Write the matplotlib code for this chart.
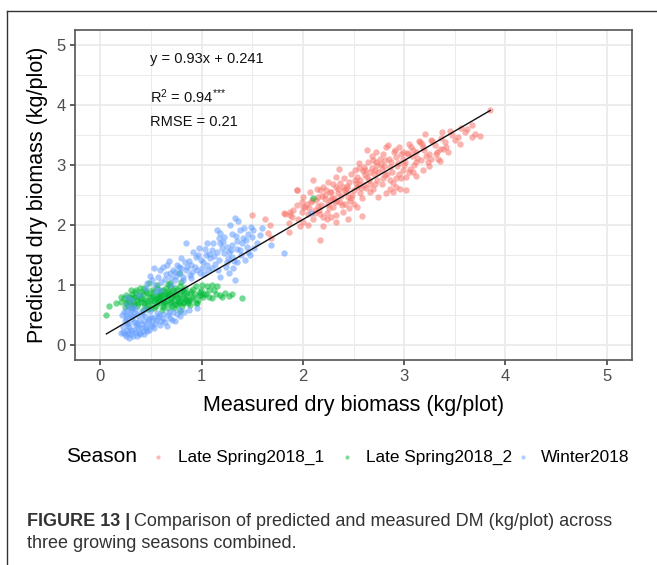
import matplotlib.pyplot as plt
from matplotlib.lines import Line2D

plt.rcParams['font.family'] = ['Liberation Sans', 'DejaVu Sans']
plt.rcParams['mathtext.fontset'] = 'custom'
plt.rcParams['mathtext.rm'] = 'Liberation Sans'
plt.rcParams['mathtext.it'] = 'Liberation Sans'

# Late Spring2018_1 points (measured, predicted)
spring1_points = [
    (3.85, 3.91), (3.67, 3.67), (3.56, 3.61), (3.45, 3.57), (3.37, 3.55), (3.21, 3.51), (3.50, 3.42),
    (3.53, 3.47), (3.67, 3.47), (3.75, 3.49), (3.30, 3.33), (3.43, 3.22), (3.35, 3.27), (3.35, 3.07),
    (3.27, 3.11), (3.25, 3.19), (3.19, 3.30), (3.12, 3.22), (3.09, 3.25), (3.04, 3.19), (2.99, 3.11),
    (2.92, 3.14), (2.84, 3.33), (2.82, 3.30), (2.90, 3.22), (2.81, 3.08), (2.76, 3.11), (2.73, 3.00),
    (2.69, 3.08), (2.63, 3.25), (2.64, 3.05), (2.60, 2.97), (2.55, 3.03), (2.51, 2.92), (2.48, 2.86),
    (2.53, 2.81), (2.56, 2.75), (2.61, 2.83), (2.66, 2.89), (2.71, 2.92), (2.78, 2.94), (2.86, 2.97),
    (2.94, 3.03), (2.99, 2.92), (3.06, 2.94), (3.09, 2.89), (3.02, 2.81), (2.97, 2.78), (2.92, 2.78),
    (2.86, 2.75), (2.79, 2.78), (2.73, 2.75), (2.66, 2.69), (2.60, 2.67), (2.53, 2.64), (2.46, 2.72),
    (2.41, 2.78), (2.36, 2.94), (2.33, 2.81), (2.40, 2.64), (2.33, 2.64), (2.30, 2.69), (2.25, 2.72),
    (2.20, 2.64), (2.17, 2.58), (2.23, 2.58), (2.28, 2.55), (2.35, 2.53), (2.43, 2.55), (2.50, 2.58),
    (2.56, 2.53), (2.66, 2.55), (2.74, 2.47), (2.82, 2.53), (2.89, 2.55), (2.96, 2.61), (3.02, 2.58),
    (2.92, 2.64), (2.86, 2.61), (3.12, 2.82), (3.19, 2.92), (3.22, 3.16), (3.17, 3.08), (3.32, 3.22),
    (3.38, 3.27), (3.12, 3.05), (2.10, 2.75), (2.14, 2.61), (2.07, 2.55), (2.00, 2.47), (1.99, 2.39),
    (2.04, 2.36), (2.09, 2.42), (2.15, 2.47), (2.22, 2.44), (2.27, 2.42), (2.32, 2.39), (2.37, 2.39),
    (2.45, 2.47), (2.50, 2.36), (2.53, 2.30), (2.46, 2.28), (2.40, 2.22), (2.33, 2.17), (2.28, 2.14),
    (2.24, 2.11), (2.20, 2.14), (2.17, 2.19), (2.12, 2.25), (2.06, 2.28), (2.00, 2.30), (1.94, 2.33),
    (1.90, 2.25), (1.87, 2.22), (1.82, 2.19), (1.89, 2.14), (1.95, 2.11), (2.00, 2.06), (2.05, 2.00),
    (1.97, 1.98), (2.20, 1.99), (2.33, 2.06), (2.45, 2.11), (2.58, 2.15), (2.17, 1.75), (1.86, 1.89),
    (1.94, 2.59), (2.72, 3.22), (2.79, 3.19), (1.50, 2.17), (1.63, 2.11), (1.81, 2.20), (1.68, 2.00),
    (1.66, 1.87), (1.69, 1.78), (1.94, 2.58), (1.86, 2.03), (1.87, 2.17), (1.99, 2.22), (3.05, 3.35),
    (3.15, 3.40), (2.95, 3.30), (3.40, 3.38), (3.60, 3.55), (2.70, 2.85), (2.62, 2.62), (2.48, 2.45),
    (2.38, 2.48), (2.25, 2.35), (2.15, 2.32), (2.10, 2.10), (2.55, 2.95), (2.88, 2.88), (3.00, 3.00),
    (3.25, 2.98), (2.42, 2.35), (2.30, 2.30), (2.68, 3.15), (2.78, 2.68), (2.02, 2.30), (2.08, 2.38),
    (2.12, 2.20), (2.18, 2.33), (2.22, 2.50), (2.26, 2.28), (2.31, 2.45), (2.35, 2.60), (2.39, 2.33),
    (2.44, 2.62), (2.47, 2.40), (2.52, 2.70), (2.57, 2.62), (2.61, 2.92), (2.65, 2.76), (2.69, 2.60),
    (2.74, 2.88), (2.77, 3.02), (2.81, 2.83), (2.85, 3.10), (2.89, 2.70), (2.93, 2.98), (2.97, 3.18),
    (3.01, 3.05), (3.05, 2.88), (3.08, 3.15), (3.13, 3.12), (3.16, 3.38), (3.20, 3.25), (3.24, 3.05),
    (3.28, 3.40), (3.31, 3.18), (3.36, 3.45), (3.41, 3.30), (3.47, 3.50), (3.55, 3.35), (3.62, 3.60),
    (3.70, 3.52), (2.05, 2.18), (2.13, 2.42), (2.19, 2.48), (2.27, 2.55), (2.34, 2.40), (2.41, 2.58),
    (2.49, 2.50), (2.55, 2.68), (2.63, 2.80), (2.71, 2.68), (2.80, 2.98), (2.87, 3.05), (2.95, 2.85),
    (3.03, 3.20), (3.10, 3.00), (3.18, 3.35), (3.27, 3.42), (3.33, 3.10), (2.24, 2.20), (2.37, 2.70),
    (2.51, 2.75), (2.59, 2.90), (2.68, 2.95), (2.83, 2.85), (2.91, 3.25), (3.07, 3.30), (2.16, 2.26),
    (2.29, 2.46), (2.44, 2.65), (2.58, 2.45), (2.72, 3.05), (2.99, 3.22),
]

# Late Spring2018_2
spring2_points = [
    (0.06, 0.51), (0.09, 0.65), (0.23, 0.78), (0.30, 0.92), (0.25, 0.70), (0.33, 0.81), (0.41, 0.78),
    (0.46, 0.87), (0.51, 0.92), (0.56, 0.95), (0.62, 0.92), (0.69, 0.98), (0.74, 0.95), (0.79, 0.98),
    (0.78, 1.20), (0.59, 0.78), (0.66, 0.81), (0.72, 0.84), (0.79, 0.84), (0.85, 0.87), (0.92, 0.81),
    (0.97, 0.84), (0.94, 0.70), (0.89, 0.67), (0.82, 0.70), (0.76, 0.67), (0.69, 0.70), (0.62, 0.67),
    (0.56, 0.70), (0.49, 0.73), (0.43, 0.70), (0.36, 0.76), (0.30, 0.78), (0.36, 0.65), (0.46, 0.65),
    (0.53, 0.62), (0.61, 0.59), (0.67, 0.62), (0.58, 0.87), (0.67, 0.90), (0.76, 0.92), (0.82, 0.92),
    (0.89, 0.87), (0.99, 0.92), (1.05, 0.98), (1.07, 0.92), (1.10, 1.01), (1.15, 0.98), (1.07, 0.81),
    (1.10, 0.78), (1.18, 0.84), (1.23, 0.87), (1.40, 0.78), (0.99, 0.84), (0.94, 0.98), (0.79, 0.57),
    (0.85, 0.76), (0.25, 0.84), (0.48, 1.03), (0.67, 1.02), (0.28, 0.74), (0.33, 0.69), (0.38, 0.83),
    (0.44, 0.76), (0.52, 0.82), (0.57, 0.75), (0.64, 0.86), (0.71, 0.80), (0.77, 0.73), (0.84, 0.79),
    (0.31, 0.62), (0.40, 0.88), (0.47, 0.60), (0.55, 0.77), (0.63, 0.72), (0.70, 0.88), (0.75, 0.82),
    (0.87, 0.74), (0.27, 0.66), (0.35, 0.92), (0.42, 0.58), (0.50, 0.80), (0.60, 0.83), (0.73, 0.62),
    (0.81, 0.65), (0.91, 0.77), (1.02, 0.86), (2.10, 2.46), (0.20, 0.72), (0.39, 0.95), (0.28, 0.80),
    (0.32, 0.72), (0.34, 0.88), (0.37, 0.70), (0.39, 0.78), (0.42, 0.85), (0.44, 0.66), (0.46, 0.74),
    (0.48, 0.82), (0.50, 0.70), (0.52, 0.88), (0.54, 0.78), (0.55, 0.66), (0.57, 0.84), (0.58, 0.72),
    (0.60, 0.90), (0.61, 0.76), (0.63, 0.82), (0.64, 0.70), (0.65, 0.95), (0.66, 0.74), (0.68, 0.86),
    (0.70, 0.78), (0.71, 0.66), (0.72, 0.92), (0.73, 0.74), (0.75, 0.86), (0.77, 0.78), (0.78, 0.70),
    (0.80, 0.90), (0.81, 0.80), (0.83, 0.72), (0.84, 0.95), (0.86, 0.82), (0.88, 0.76), (0.90, 0.90),
    (0.93, 0.86), (0.96, 0.76), (0.98, 0.88), (1.01, 0.80), (1.04, 0.86), (1.12, 0.92), (1.20, 0.80),
    (1.27, 0.82), (0.30, 0.68), (0.35, 0.80), (0.40, 0.72), (0.45, 0.90), (0.50, 0.62), (0.53, 0.74),
    (0.58, 0.80), (0.62, 0.64), (0.66, 0.86), (0.70, 0.72), (0.74, 0.68), (0.79, 0.74), (0.83, 0.88),
    (0.87, 0.70), (0.92, 0.94), (0.95, 0.70), (0.26, 0.74), (0.24, 0.64), (0.31, 0.86), (0.43, 0.96),
    (0.56, 1.00), (0.69, 1.04), (0.80, 1.06), (0.20, 0.80), (0.15, 0.70), (1.00, 1.00), (1.14, 0.86),
    (1.30, 0.85),
]

# Winter2018
winter_points = [
    (1.36, 2.07), (1.28, 2.00), (1.51, 1.92), (1.46, 1.86), (1.58, 1.84), (1.41, 1.78), (1.35, 1.73),
    (1.30, 1.67), (1.45, 1.64), (1.38, 1.59), (1.48, 1.50), (1.43, 1.42), (1.35, 1.39), (1.31, 1.28),
    (1.27, 1.20), (1.18, 1.14), (1.33, 1.09), (1.22, 1.53), (1.25, 1.64), (1.18, 1.70), (1.17, 1.78),
    (1.15, 1.92), (1.18, 1.87), (1.05, 1.70), (1.10, 1.59), (1.04, 1.50), (0.99, 1.42), (1.05, 1.34),
    (1.00, 1.28), (0.94, 1.47), (0.85, 1.70), (0.90, 1.34), (0.84, 1.39), (0.80, 1.28), (0.76, 1.34),
    (0.69, 1.20), (0.66, 1.34), (0.59, 1.25), (0.57, 1.14), (0.64, 1.11), (0.51, 1.09), (0.46, 1.03),
    (0.53, 1.28), (0.74, 1.09), (0.82, 1.14), (0.89, 1.17), (0.95, 1.25), (1.10, 1.28), (1.17, 1.42),
    (1.25, 1.39), (1.30, 1.47), (1.38, 1.92), (1.49, 1.97), (1.69, 1.67), (1.81, 1.54), (0.25, 0.15),
    (0.30, 0.18), (0.36, 0.15), (0.43, 0.18), (0.26, 0.26), (0.33, 0.26), (0.40, 0.29), (0.46, 0.23),
    (0.51, 0.32), (0.26, 0.37), (0.31, 0.43), (0.36, 0.37), (0.43, 0.40), (0.48, 0.43), (0.54, 0.37),
    (0.59, 0.34), (0.66, 0.32), (0.62, 0.43), (0.69, 0.46), (0.74, 0.40), (0.79, 0.48), (0.26, 0.48),
    (0.25, 0.57), (0.30, 0.59), (0.26, 0.67), (0.34, 0.54), (0.41, 0.51), (0.49, 0.57), (0.56, 0.54),
    (0.79, 0.59), (0.38, 0.84), (0.54, 1.01), (0.59, 0.92), (0.79, 1.20), (0.22, 0.22), (0.28, 0.30),
    (0.24, 0.40), (0.29, 0.52), (0.32, 0.64), (0.27, 0.20), (0.35, 0.33), (0.45, 0.28), (0.50, 0.47),
    (0.57, 0.47), (0.67, 0.50), (0.72, 0.55), (0.38, 0.21), (0.44, 0.60), (0.23, 0.55), (2.08, 2.20),
    (0.22, 0.30), (0.24, 0.18), (0.25, 0.45), (0.27, 0.35), (0.28, 0.12), (0.29, 0.62), (0.30, 0.25),
    (0.31, 0.48), (0.32, 0.15), (0.33, 0.38), (0.34, 0.60), (0.35, 0.22), (0.36, 0.50), (0.37, 0.30),
    (0.38, 0.42), (0.39, 0.18), (0.40, 0.55), (0.41, 0.36), (0.42, 0.24), (0.44, 0.48), (0.45, 0.32),
    (0.47, 0.40), (0.48, 0.26), (0.50, 0.36), (0.52, 0.46), (0.53, 0.28), (0.55, 0.42), (0.58, 0.50),
    (0.60, 0.40), (0.62, 0.52), (0.64, 0.38), (0.68, 0.56), (0.71, 0.42), (0.76, 0.52), (0.83, 0.55),
    (0.88, 0.58), (0.95, 0.62), (0.55, 0.90), (0.60, 1.05), (0.65, 1.18), (0.70, 1.00), (0.72, 1.25),
    (0.75, 1.15), (0.78, 1.30), (0.82, 1.08), (0.85, 1.25), (0.88, 1.40), (0.90, 1.12), (0.93, 1.30),
    (0.96, 1.50), (0.98, 1.20), (1.01, 1.38), (1.03, 1.60), (1.06, 1.25), (1.08, 1.45), (1.11, 1.70),
    (1.13, 1.35), (1.15, 1.55), (1.20, 1.62), (1.22, 1.80), (1.24, 1.30), (1.27, 1.55), (1.30, 1.85),
    (1.32, 1.40), (1.35, 1.60), (1.40, 1.70), (1.42, 1.95), (1.46, 1.55), (1.50, 1.80), (1.55, 1.70),
    (1.60, 1.95), (1.33, 2.12), (0.49, 1.15), (0.45, 0.95), (0.62, 1.30), (0.68, 1.40), (0.80, 1.45),
    (0.26, 0.80), (0.30, 0.75), (0.21, 0.50), (0.20, 0.20), (0.92, 1.55), (0.97, 1.62), (1.02, 1.18),
    (1.07, 1.52), (1.12, 1.48), (1.16, 1.25), (1.21, 1.72), (1.26, 1.45), (1.29, 1.58), (1.34, 1.82),
    (1.39, 1.50), (1.44, 1.75), (1.52, 1.62), (0.70, 1.12), (0.74, 1.22), (0.86, 1.30), (0.91, 1.22),
]

seasons = ['Late Spring2018_1', 'Late Spring2018_2', 'Winter2018']
colors = ['#F8766D', '#00BA38', '#619CFF']

# fitted line ends as drawn in the figure
fit_x = [0.06, 3.85]
fit_y = [0.19, 3.91]

fig = plt.figure(figsize=(6.57, 5.65), dpi=100)
ax = fig.add_axes([75 / 657, 1 - 360.3 / 565, 557 / 657, 330.3 / 565])

ax.set_xlim(-0.25, 5.25)
ax.set_ylim(-0.25, 5.25)
ax.set_xticks(range(6))
ax.set_yticks(range(6))
ax.set_xticks([0.5, 1.5, 2.5, 3.5, 4.5], minor=True)
ax.set_yticks([0.5, 1.5, 2.5, 3.5, 4.5], minor=True)
ax.grid(True, which='major', color='#EBEBEB', lw=1.3)
ax.grid(True, which='minor', color='#EBEBEB', lw=0.7)
ax.set_axisbelow(True)
ax.tick_params(which='minor', length=0)
ax.tick_params(which='major', length=3.5, width=1.1, color='#333333',
               labelsize=12, labelcolor='#4D4D4D', pad=3)
for s in ax.spines.values():
    s.set_color('#555555')
    s.set_linewidth(1.2)

for pts, c in zip([spring1_points, spring2_points, winter_points], colors):
    xs, ys = zip(*pts)
    ax.scatter(xs, ys, s=21, color=c, alpha=0.55, linewidths=0)

ax.plot(fit_x, fit_y, color='#111111', lw=1.0)

ax.text(0.49, 4.76, 'y = 0.93x + 0.241', fontsize=10.5, va='center', color='#111111')
ax.text(0.49, 4.14, r'R$^2$ = 0.94$^{{*}{*}{*}}$', fontsize=10.5, va='center', color='#111111')
ax.text(0.49, 3.71, 'RMSE = 0.21', fontsize=10.5, va='center', color='#111111')

ax.set_xlabel('Measured dry biomass (kg/plot)', fontsize=15.5, labelpad=8)
ax.set_ylabel('Predicted dry biomass (kg/plot)', fontsize=15.5, labelpad=6)

# legend laid out like ggplot's bottom legend
leg_y = 1 - 457 / 565
fig.text(66 / 657, leg_y, 'Season', fontsize=15, va='center')
for label, c, kx, tx in zip(seasons, colors, [158, 347, 523], [178, 366, 541]):
    fig.add_artist(Line2D([kx / 657], [leg_y], ls='none', marker='o', markersize=3,
                          color=c, alpha=0.5, markeredgewidth=0))
    fig.text(tx / 657, leg_y, label, fontsize=12.4, va='center')

# outer frame of the figure panel
fig.add_artist(Line2D([7 / 657, 7 / 657], [0, 1 - 11 / 565], color='#333333', lw=1))
fig.add_artist(Line2D([7 / 657, 1], [1 - 11 / 565, 1 - 11 / 565], color='#333333', lw=1))

# caption
cap = fig.text(27 / 657, 1 - 521 / 565, 'FIGURE 13 |', fontsize=13, fontweight='bold',
               va='center', color='#333333')
fig.canvas.draw()
bb = cap.get_window_extent()
fig.text((bb.x1 + 4) / 657, 1 - 521 / 565,
         'Comparison of predicted and measured DM (kg/plot) across',
         fontsize=13, va='center', color='#333333')
fig.text(27 / 657, 1 - 543 / 565, 'three growing seasons combined.', fontsize=13,
         va='center', color='#333333')

fig.savefig('out.png', dpi=100)
